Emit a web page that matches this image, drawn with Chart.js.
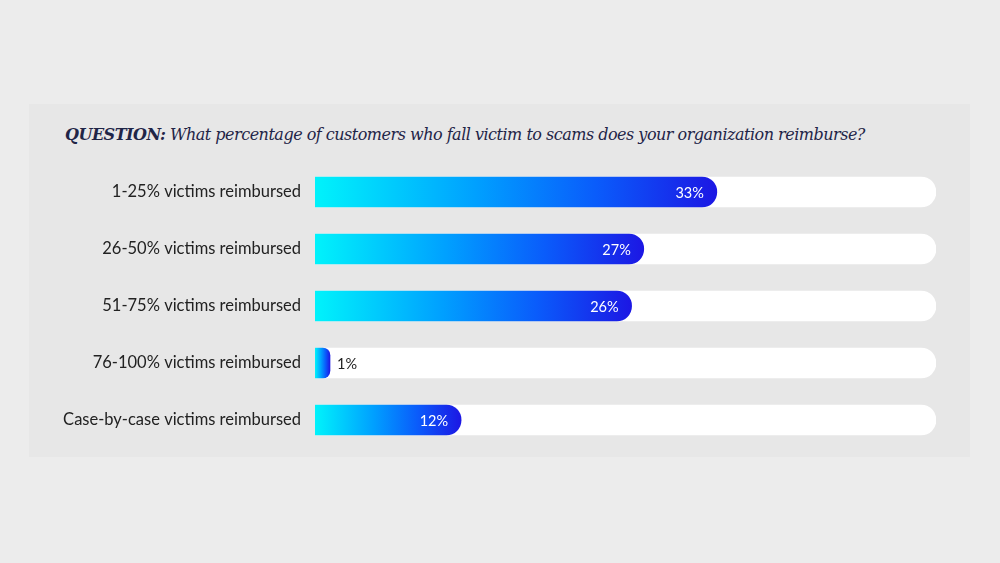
<!DOCTYPE html>
<html>
<head>
<meta charset="utf-8">
<script src="https://cdn.jsdelivr.net/npm/chart.js@4"></script>
<style>
  html, body { margin: 0; padding: 0; background: #ececec; }
  body { width: 1000px; height: 563px; position: relative; overflow: hidden; }
  #panel { position: absolute; left: 29px; top: 104px; width: 941px; height: 353px; background: #e7e7e7; }
  #title { position: absolute; left: 65px; top: 125px; font-family: "DejaVu Serif", serif; font-style: italic;
           font-size: 16px; letter-spacing: -0.5px; color: #1f2547; white-space: nowrap; }
  #title b { font-weight: bold; }
  #wrap { position: absolute; left: 0; top: 0; width: 1000px; height: 563px; }
</style>
</head>
<body>
<div id="panel"></div>
<div id="title"><b>QUESTION:</b> What percentage of customers who fall victim to scams does your organization reimburse?</div>
<div id="wrap"><canvas id="myChart"></canvas></div>
<script>
// datos
const categories = [
  "1-25% victims reimbursed",
  "26-50% victims reimbursed",
  "51-75% victims reimbursed",
  "76-100% victims reimbursed",
  "Case-by-case victims reimbursed"
];
const shares = [33, 27, 26, 1, 12];
const trackMax = 51;
const trackValues = categories.map(() => trackMax);

function barGradient(c) {
  const chart = c.chart;
  const x = chart.scales.x;
  if (!chart.chartArea || !x) return '#1a2ce8';
  const x0 = x.getPixelForValue(0);
  const x1 = Math.max(x.getPixelForValue(c.raw), x0 + 15);
  const g = chart.ctx.createLinearGradient(x0, 0, x1, 0);
  g.addColorStop(0, '#00f3fb');
  g.addColorStop(0.4, '#00a0ff');
  g.addColorStop(0.7, '#0a5cfb');
  g.addColorStop(1, '#1c17e4');
  return g;
}

// etiquetas de porcentaje
const valueLabels = {
  id: 'valueLabels',
  afterDatasetsDraw(chart) {
    const ctx = chart.ctx;
    const meta = chart.getDatasetMeta(0);
    ctx.save();
    ctx.font = '14.5px Lato';
    ctx.textBaseline = 'middle';
    meta.data.forEach((bar, i) => {
      const txt = shares[i] + '%';
      const w = bar.x - bar.base;
      if (w > 45) {
        ctx.fillStyle = '#ffffff';
        ctx.textAlign = 'right';
        ctx.fillText(txt, bar.x - 13, bar.y + 1);
      } else {
        ctx.fillStyle = '#222222';
        ctx.textAlign = 'left';
        ctx.fillText(txt, bar.x + 7, bar.y + 1);
      }
    });
    ctx.restore();
  }
};

const ctx = document.getElementById('myChart');
const chart = new Chart(ctx, {
  type: 'bar',
  data: {
    labels: categories,
    datasets: [{
      data: shares,
      backgroundColor: barGradient,
      borderRadius: 15,
      borderSkipped: 'start',
      barThickness: 30,
      minBarLength: 15,
      grouped: false,
      order: 0
    }, {
      data: trackValues,
      backgroundColor: '#ffffff',
      borderRadius: 15,
      borderSkipped: 'start',
      barThickness: 30,
      grouped: false,
      order: 1
    }]
  },
  options: {
    indexAxis: 'y',
    responsive: true,
    maintainAspectRatio: false,
    animation: false,
    layout: { padding: { top: 163.5, bottom: 114.5, left: 0, right: 64 } },
    plugins: { legend: { display: false }, tooltip: { enabled: false } },
    scales: {
      x: { display: false, min: 0, max: trackMax },
      y: {
        grid: { display: false },
        border: { display: false },
        ticks: { color: '#222222', font: { family: 'Lato', size: 16.5 }, padding: 6 },
        afterFit(scale) { scale.width = 315; }
      }
    }
  },
  plugins: [valueLabels]
});
</script>
</body>
</html>
